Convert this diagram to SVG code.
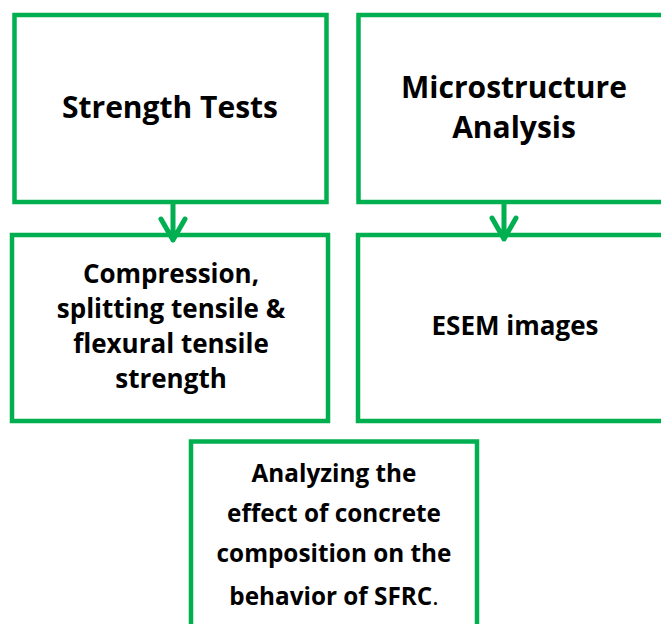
<svg xmlns="http://www.w3.org/2000/svg" width="661" height="624" viewBox="0 0 661 624">
  <style>
    .box { fill: #ffffff; stroke: #00B050; stroke-width: 4.5; }
    .lbl { font-family: "Open Sans", "Liberation Sans", sans-serif; font-weight: bold; fill: #000000; text-anchor: middle; }
    .big { font-size: 30px; }
    .mid { font-size: 26px; }
    .sml { font-size: 24.3px; }
    .conn { fill: none; stroke: #00B050; stroke-width: 5; stroke-linecap: round; stroke-linejoin: round; }
  </style>
  <rect width="661" height="624" fill="#ffffff"/>

  <g id="strength-tests">
    <rect class="box" x="14.5" y="15" width="312" height="187"/>
    <text class="lbl big" x="170" y="118">Strength Tests</text>
  </g>

  <g id="microstructure-analysis">
    <rect class="box" x="358.5" y="15" width="330" height="187"/>
    <text class="lbl big" x="514" y="98">Microstructure</text>
    <text class="lbl big" x="514" y="138">Analysis</text>
  </g>

  <g id="strength-results">
    <rect class="box" x="12" y="235" width="316" height="186"/>
    <text class="lbl mid" x="171" y="283">Compression,</text>
    <text class="lbl mid" x="171" y="318">splitting tensile &amp;</text>
    <text class="lbl mid" x="171" y="353">flexural tensile</text>
    <text class="lbl mid" x="171" y="388">strength</text>
  </g>

  <g id="esem-images">
    <rect class="box" x="358" y="235" width="330" height="186"/>
    <text class="lbl mid" x="515" y="335">ESEM images</text>
  </g>

  <g id="conclusion">
    <rect class="box" x="191" y="441.5" width="286" height="210"/>
    <text class="lbl sml" x="334" y="482">Analyzing the</text>
    <text class="lbl sml" x="334" y="522">effect of concrete</text>
    <text class="lbl sml" x="334" y="562">composition on the</text>
    <text class="lbl sml" x="334" y="605">behavior of SFRC<tspan font-weight="normal">.</tspan></text>
  </g>

  <g id="connectors">
    <path class="conn" d="M173 203 V240 M161 219 L173 240 L185 219"/>
    <path class="conn" d="M504 203 V239 M492 218 L504 239 L516 218"/>
  </g>
</svg>
